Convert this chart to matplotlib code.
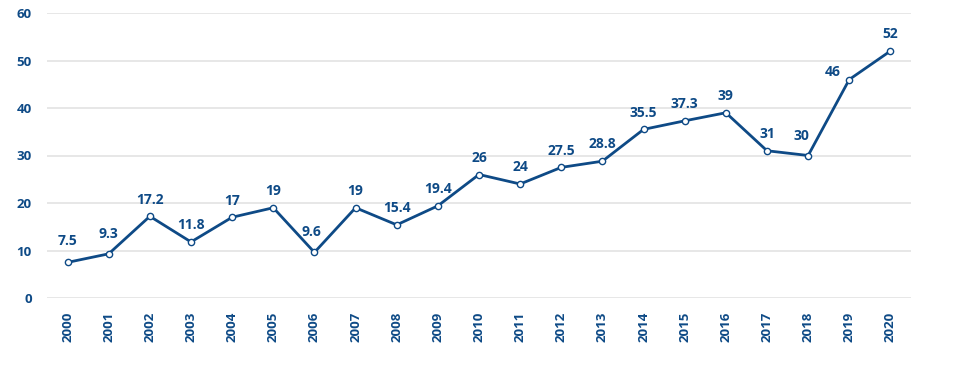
import matplotlib.pyplot as plt
import numpy as np

years = [str(y) for y in range(2000, 2021)]
values = [7.5, 9.3, 17.2, 11.8, 17, 19, 9.6, 19, 15.4, 19.4, 26, 24, 27.5, 28.8,
          35.5, 37.3, 39, 31, 30, 46, 52]
labels = ['7.5', '9.3', '17.2', '11.8', '17', '19', '9.6', '19', '15.4', '19.4', '26',
          '24', '27.5', '28.8', '35.5', '37.3', '39', '31', '30', '46', '52']

blue = '#0E4A86'
plt.rcParams['font.family'] = ['Open Sans', 'DejaVu Sans']
plt.rcParams['font.weight'] = 'bold'

fig = plt.figure(figsize=(9.56, 3.69), dpi=100)
ax = fig.add_axes([47/956, 1-298/369, (911-47)/956, (298-13)/369])
x = np.arange(len(years))
ax.plot(x, values, color=blue, lw=2, marker='o', ms=4.5, mfc='white', mec=blue, mew=1, zorder=3)

# label offsets in points (dx, dy); most sit straight above the marker
offs = {19: (-12, 0), 18: (-5, 9), 6: (-2, 10), 0: (0, 10), 1: (0, 9)}
for i, (v, s) in enumerate(zip(values, labels)):
    dx, dy = offs.get(i, (0, 7))
    ax.annotate(s, (x[i], v), xytext=(dx, dy), textcoords='offset points',
                ha='center', va='bottom', fontsize=10, fontweight='bold', color=blue)

ax.set_xlim(-0.5, len(years) - 0.5)
ax.set_ylim(0, 60)
ax.set_yticks(range(0, 61, 10))
ax.set_xticks(x)
ax.set_xticklabels(years, rotation=90)
ax.grid(axis='y', color='#E3E3E3', lw=1.2)
ax.set_axisbelow(True)
for sp in ax.spines.values():
    sp.set_visible(False)
ax.tick_params(length=0, colors=blue, labelsize=9.5)
ax.tick_params(axis='y', pad=11)
ax.tick_params(axis='x', pad=10)
for t in ax.get_xticklabels() + ax.get_yticklabels():
    t.set_fontweight('bold')

fig.savefig('out.png', dpi=100)
